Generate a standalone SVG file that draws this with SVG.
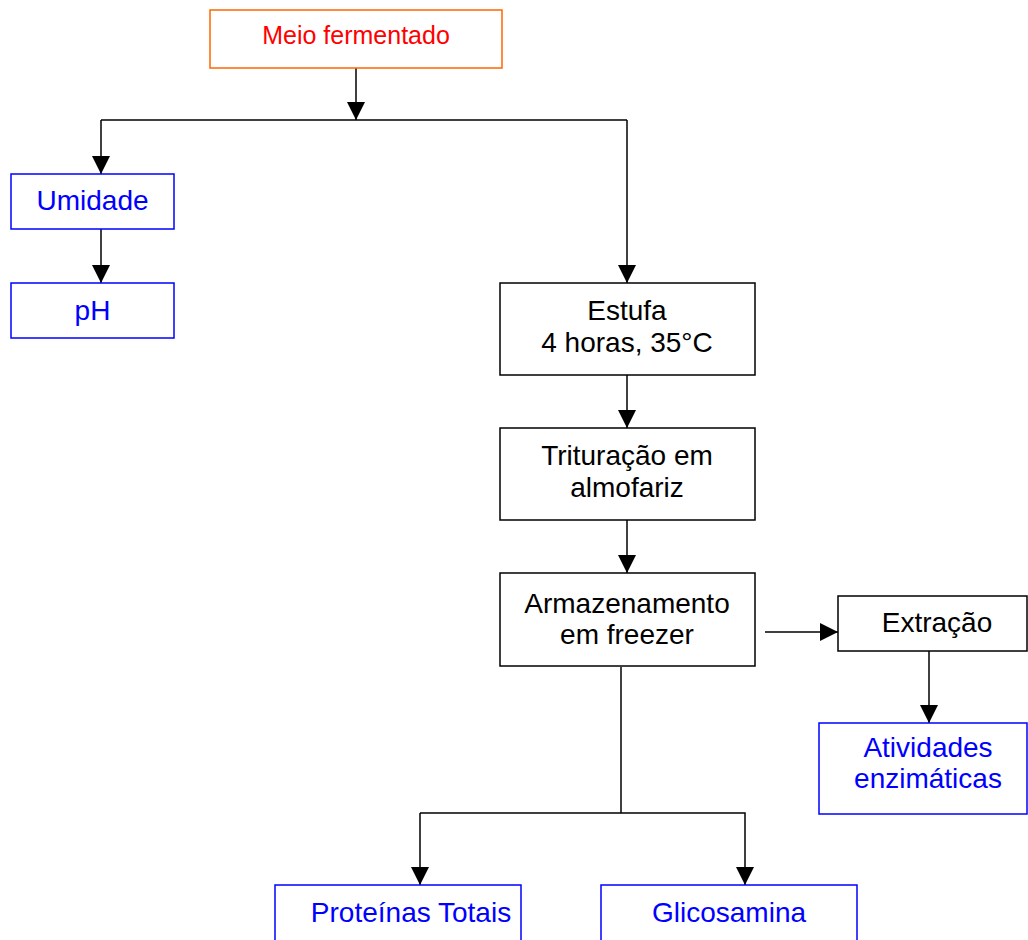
<svg xmlns="http://www.w3.org/2000/svg" width="1028" height="940" viewBox="0 0 1028 940">
<style>
.box{fill:#fff;stroke-width:1.5}
.k{stroke:#000}
.b{stroke:#0000FF}
.o{stroke:#FF6600}
text{font-family:"Liberation Sans",Arial,sans-serif;font-size:28px;text-anchor:middle}
.tk{fill:#000}
.tb{fill:#0000FF}
.tr{fill:#FF0000;font-size:25px}
.ln{fill:none;stroke:#000;stroke-width:1.5}
</style>
<defs>
<marker id="ah" markerUnits="userSpaceOnUse" markerWidth="18" markerHeight="18" viewBox="0 0 18 18" refX="18" refY="9" orient="auto">
<path d="M0,0 L18,9 L0,18 Z" fill="#000"/>
</marker>
</defs>
<g id="connectors">
<line class="ln" x1="356" y1="68" x2="356" y2="120" marker-end="url(#ah)"/>
<polyline class="ln" points="101,120 627,120"/>
<line class="ln" x1="101" y1="120" x2="101" y2="174" marker-end="url(#ah)"/>
<line class="ln" x1="101" y1="229" x2="101" y2="283" marker-end="url(#ah)"/>
<line class="ln" x1="627" y1="120" x2="627" y2="283" marker-end="url(#ah)"/>
<line class="ln" x1="627" y1="375" x2="627" y2="428" marker-end="url(#ah)"/>
<line class="ln" x1="627" y1="520" x2="627" y2="573" marker-end="url(#ah)"/>
<line class="ln" x1="765" y1="632" x2="838" y2="632" marker-end="url(#ah)"/>
<line class="ln" x1="929" y1="651" x2="929" y2="723" marker-end="url(#ah)"/>
<line class="ln" x1="621" y1="667" x2="621" y2="813"/>
<polyline class="ln" points="420,813 745,813 745,885" marker-end="url(#ah)"/>
<line class="ln" x1="420" y1="813" x2="420" y2="885" marker-end="url(#ah)"/>
</g>
<g id="meio">
<rect class="box o" x="210" y="10" width="292" height="58"/>
<text class="tr" x="356" y="44">Meio fermentado</text>
</g>
<g id="umidade">
<rect class="box b" x="11" y="174" width="163" height="55"/>
<text class="tb" x="92.5" y="210">Umidade</text>
</g>
<g id="ph">
<rect class="box b" x="11" y="283" width="163" height="55"/>
<text class="tb" x="92.5" y="320">pH</text>
</g>
<g id="estufa">
<rect class="box k" x="500" y="283" width="255" height="92"/>
<text class="tk" x="627" y="320">Estufa</text>
<text class="tk" x="627" y="352">4 horas, 35°C</text>
</g>
<g id="trituracao">
<rect class="box k" x="500" y="428" width="255" height="92"/>
<text class="tk" x="627" y="465">Trituração em</text>
<text class="tk" x="627" y="497">almofariz</text>
</g>
<g id="armazenamento">
<rect class="box k" x="500" y="573" width="255" height="93"/>
<text class="tk" x="627" y="613">Armazenamento</text>
<text class="tk" x="627" y="644">em freezer</text>
</g>
<g id="extracao">
<rect class="box k" x="838" y="596" width="189" height="55"/>
<text class="tk" x="937" y="632">Extração</text>
</g>
<g id="atividades">
<rect class="box b" x="819" y="723" width="208" height="91"/>
<text class="tb" x="928" y="757">Atividades</text>
<text class="tb" x="928" y="788">enzimáticas</text>
</g>
<g id="proteinas">
<rect class="box b" x="275" y="885" width="246" height="70"/>
<text class="tb" x="411" y="922">Proteínas Totais</text>
</g>
<g id="glicosamina">
<rect class="box b" x="601" y="885" width="256" height="70"/>
<text class="tb" x="729" y="922">Glicosamina</text>
</g>
</svg>
